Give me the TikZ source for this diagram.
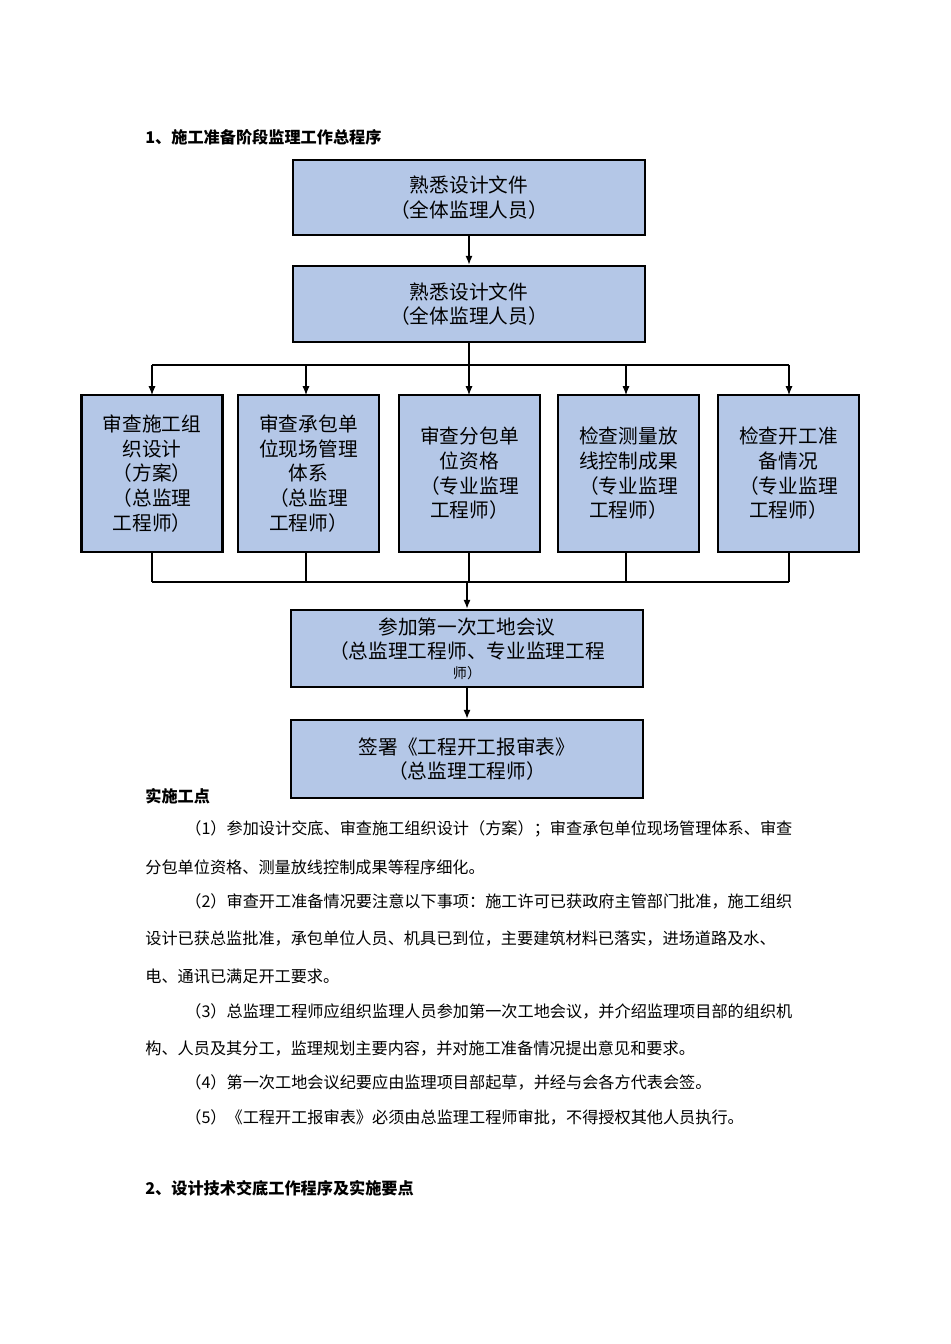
\documentclass[tikz,border=0pt]{standalone}
\usepackage{fontspec}
\setmainfont{Noto Sans CJK SC}
\usetikzlibrary{arrows.meta}
\begin{document}
\begin{tikzpicture}[x=0.02cm,y=-0.02cm,
  box/.style={draw=black,line width=1.6pt,fill={rgb,255:red,180;green,199;blue,231},align=center,inner sep=0pt,font=\fontsize{11.2}{14}\selectfont},
  conn/.style={line width=0.6pt},
  arr/.style={conn,-{Latex[length=5pt,width=4pt]}},
  body/.style={anchor=west,inner sep=0pt,font=\fontsize{9.2}{11}\selectfont},
  ttl/.style={anchor=west,inner sep=0pt,font=\fontsize{9.2}{11}\selectfont\bfseries}]
\useasboundingbox[fill=white] (0,0) rectangle (950,1344);
\node[ttl] (t1) at (145,137) {1、施工准备阶段监理工作总程序};
\node[box,minimum width=352*0.02cm,minimum height=75*0.02cm] (a) at (469,197.5) {熟悉设计文件\\（全体监理人员）};
\node[box,minimum width=352*0.02cm,minimum height=76*0.02cm] (b) at (469,304) {熟悉设计文件\\（全体监理人员）};
\foreach \n/\x/\t in {c1/152/{审查施工组\\织设计\\（方案）\\（总监理\\工程师）},
  c2/308.5/{审查承包单\\位现场管理\\体系\\（总监理\\工程师）},
  c3/469.5/{审查分包单\\位资格\\（专业监理\\工程师）},
  c4/628.5/{检查测量放\\线控制成果\\（专业监理\\工程师）},
  c5/788.5/{检查开工准\\备情况\\（专业监理\\工程师）}}
  \node[box,minimum width=141*0.02cm,minimum height=157*0.02cm] (\n) at (\x,473.5) {\t};
\node[box,minimum width=352*0.02cm,minimum height=77*0.02cm] (d) at (467,648.5) {参加第一次工地会议\\（总监理工程师、专业监理工程\\[-3pt]{\fontsize{8}{9}\selectfont 师）}};
\node[box,minimum width=352*0.02cm,minimum height=78*0.02cm] (e) at (467,759) {签署《工程开工报审表》\\（总监理工程师）};
\coordinate (j1) at (469,365);
\coordinate (j2) at (467,582);
\draw[arr] (a) -- (b);
\draw[conn] (b.south) -- (j1);
\draw[conn] (152,365) -- (789,365);
\foreach \n/\x in {c1/152,c2/306,c3/469,c4/626,c5/789}{
  \draw[arr] (\x,365) -- (\x,395);
  \draw[conn] (\n.south -| \x,0) -- (\x,582);
}
\draw[conn] (152,582) -- (789,582);
\draw[arr] (j2) -- (d.north);
\draw[arr] (d) -- (e);
\node[ttl] (h) at (145,796) {实施工点};
\node[body] (p1) at (185,829) {（1）参加设计交底、审查施工组织设计（方案）；审查承包单位现场管理体系、审查};
\node[body] (p1b) at (145,867) {分包单位资格、测量放线控制成果等程序细化。};
\node[body] (p2) at (185,901) {（2）审查开工准备情况要注意以下事项：施工许可已获政府主管部门批准，施工组织};
\node[body] (p2b) at (145,939) {设计已获总监批准，承包单位人员、机具已到位，主要建筑材料已落实，进场道路及水、};
\node[body] (p2c) at (145,976) {电、通讯已满足开工要求。};
\node[body] (p3) at (185,1011) {（3）总监理工程师应组织监理人员参加第一次工地会议，并介绍监理项目部的组织机};
\node[body] (p3b) at (145,1048) {构、人员及其分工，监理规划主要内容，并对施工准备情况提出意见和要求。};
\node[body] (p4) at (185,1082) {（4）第一次工地会议纪要应由监理项目部起草，并经与会各方代表会签。};
\node[body] (p5) at (185,1117) {（5）《工程开工报审表》必须由总监理工程师审批，不得授权其他人员执行。};
\node[ttl] (t2) at (145,1188) {2、设计技术交底工作程序及实施要点};
\end{tikzpicture}
\end{document}
